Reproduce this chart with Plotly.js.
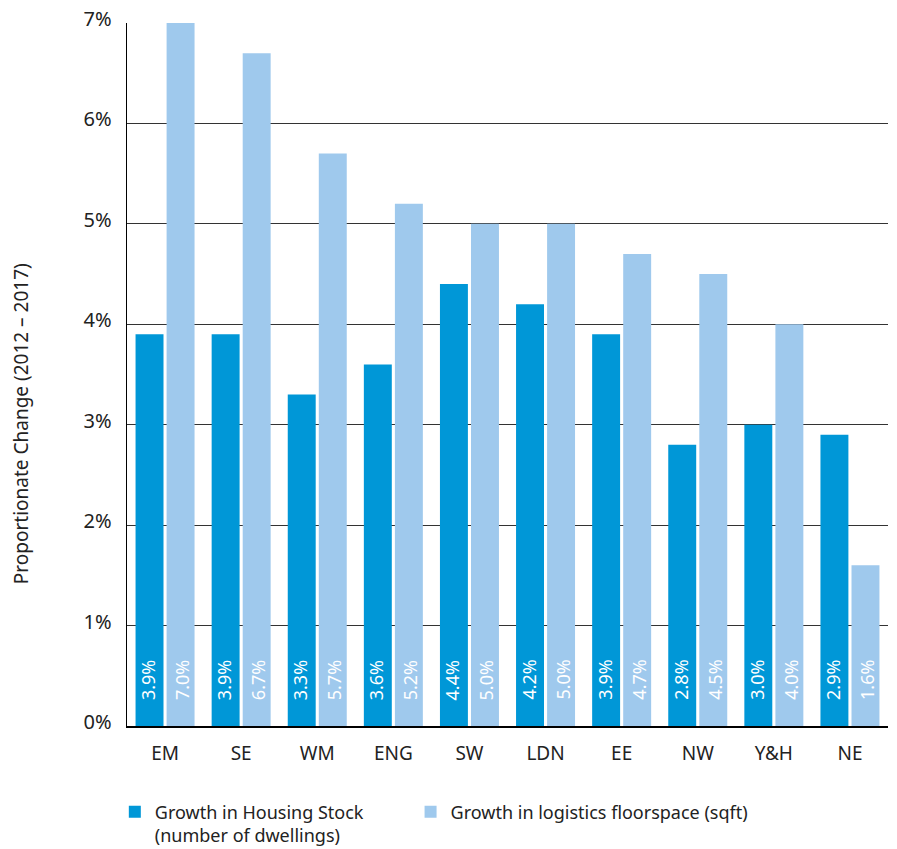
<!DOCTYPE html>
<html>
<head>
<meta charset="utf-8">
<script src="https://cdn.plot.ly/plotly-3.0.1.min.js"></script>
<style>html,body{margin:0;padding:0;background:#fff;}#chart{width:897px;height:849px;}</style>
</head>
<body>
<div id="chart"></div>
<script>
const regions = ["EM", "SE", "WM", "ENG", "SW", "LDN", "EE", "NW", "Y&H", "NE"];
const housingGrowth = [3.9, 3.9, 3.3, 3.6, 4.4, 4.2, 3.9, 2.8, 3.0, 2.9];
const logisticsGrowth = [7.0, 6.7, 5.7, 5.2, 5.0, 5.0, 4.7, 4.5, 4.0, 1.6];
const housingName = "Growth in Housing Stock" + "&nbsp;".repeat(9) + "<br>(number of dwellings)";
const logisticsName = "Growth in logistics floorspace (sqft)";
const yTickVals = [0, 1, 2, 3, 4, 5, 6, 7];
const yTickText = ["0%", "1%", "2%", "3%", "4%", "5%", "6%", "7%"];

const FONT = "'Noto Sans', 'Open Sans', sans-serif";
const darkBlue = "#0097D7";
const lightBlue = "#9FC9ED";

const traces = [
  {type: "bar", x: regions, y: housingGrowth, name: housingName,
   marker: {color: darkBlue}, hoverinfo: "skip"},
  {type: "bar", x: regions, y: logisticsGrowth, name: logisticsName,
   marker: {color: lightBlue}, hoverinfo: "skip"}
];

const annotations = [];
function addLabels(vals, shift) {
  vals.forEach((v, i) => {
    annotations.push({
      x: regions[i], y: 0, xref: "x", yref: "y",
      text: v.toFixed(1) + "%", showarrow: false, textangle: -90,
      xanchor: "center", yanchor: "bottom", xshift: shift, yshift: 24,
      font: {family: FONT, size: 18, color: "#ffffff"}
    });
  });
}
addLabels(housingGrowth, -17);
addLabels(logisticsGrowth, 17);
annotations.push({
  x: -0.14, y: 0.43, xref: "paper", yref: "paper",
  text: "Proportionate Change (2012 – 2017)", showarrow: false, textangle: -90,
  xanchor: "center", yanchor: "middle",
  font: {family: FONT, size: 19, color: "#222222"}
});

const layout = {
  width: 897, height: 849,
  margin: {l: 127, r: 9, t: 23, b: 123, autoexpand: false},
  paper_bgcolor: "#ffffff", plot_bgcolor: "#ffffff",
  barmode: "group", bargap: 0.184, bargroupgap: 0.1,
  font: {family: FONT, color: "#222222"},
  showlegend: true,
  legend: {
    orientation: "h", x: -0.016, xanchor: "left", y: -0.096, yanchor: "top",
    valign: "top", font: {family: FONT, size: 18, color: "#222222"},
    traceorder: "normal", itemclick: false, itemdoubleclick: false
  },
  xaxis: {
    type: "category", showgrid: false, zeroline: false,
    showline: true, linecolor: "#000000", linewidth: 1.5,
    ticks: "", ticklabelstandoff: 10,
    tickfont: {family: FONT, size: 19, color: "#222222"}
  },
  yaxis: {
    range: [0, 7], tickvals: yTickVals, ticktext: yTickText,
    showgrid: true, gridcolor: "#333333", gridwidth: 1,
    zeroline: false, showline: true, linecolor: "#000000", linewidth: 1.5,
    ticks: "", ticklabelstandoff: 10, ticklabelshift: -4,
    tickfont: {family: FONT, size: 20, color: "#222222"}
  },
  annotations: annotations
};

Plotly.newPlot("chart", traces, layout, {displayModeBar: false, staticPlot: true});
</script>
</body>
</html>
